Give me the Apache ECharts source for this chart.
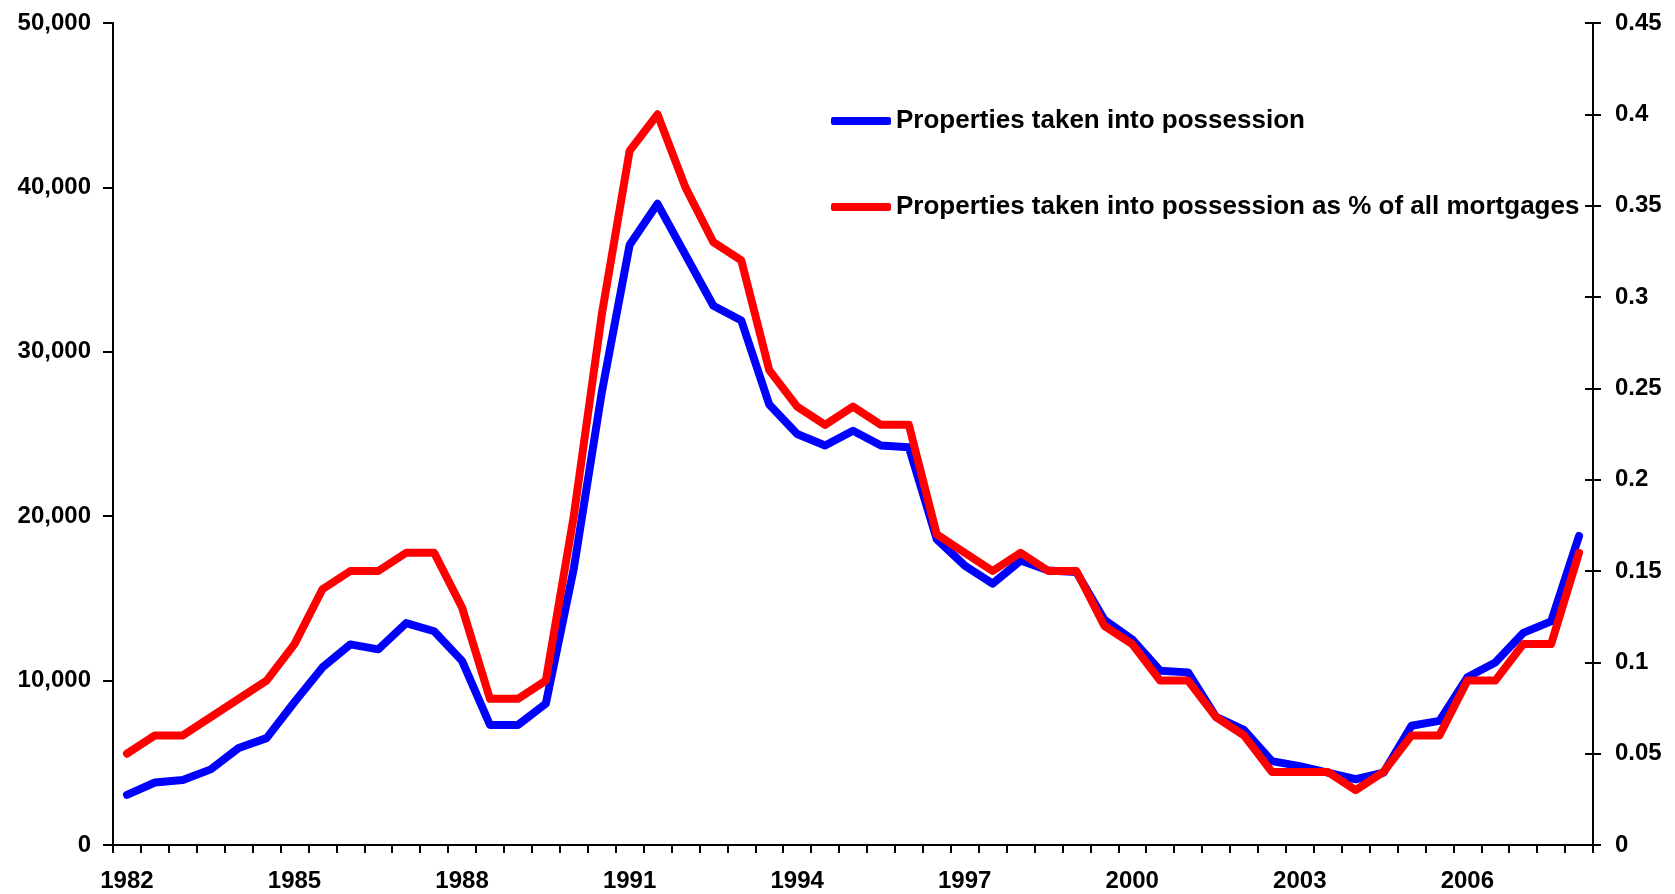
<!DOCTYPE html>
<html>
<head>
<meta charset="utf-8">
<title>Properties taken into possession</title>
<script src="https://cdn.jsdelivr.net/npm/echarts@6/dist/echarts.min.js"></script>
<style>
    html, body { margin: 0; padding: 0; background: #fff; }
    #chart { width: 1675px; height: 894px; }
</style>
</head>
<body>
<div id="chart"></div>
<script>
    // half-year periods, 1982 H1 .. 2008 H1
    const periods = [
        '1982 H1', '1982 H2', '1983 H1', '1983 H2', '1984 H1', '1984 H2',
        '1985 H1', '1985 H2', '1986 H1', '1986 H2', '1987 H1', '1987 H2',
        '1988 H1', '1988 H2', '1989 H1', '1989 H2', '1990 H1', '1990 H2',
        '1991 H1', '1991 H2', '1992 H1', '1992 H2', '1993 H1', '1993 H2',
        '1994 H1', '1994 H2', '1995 H1', '1995 H2', '1996 H1', '1996 H2',
        '1997 H1', '1997 H2', '1998 H1', '1998 H2', '1999 H1', '1999 H2',
        '2000 H1', '2000 H2', '2001 H1', '2001 H2', '2002 H1', '2002 H2',
        '2003 H1', '2003 H2', '2004 H1', '2004 H2', '2005 H1', '2005 H2',
        '2006 H1', '2006 H2', '2007 H1', '2007 H2', '2008 H1'
    ];

    // number of properties taken into possession (left axis)
    const possessions = [
        3050, 3800, 3950, 4600, 5900, 6500,
        8700, 10800, 12200, 11900, 13500, 13000,
        11200, 7300, 7300, 8600, 16800, 27500,
        36500, 39000, 35900, 32800, 31900, 26800,
        25000, 24300, 25200, 24300, 24200, 18600,
        17000, 15900, 17300, 16700, 16600, 13700,
        12500, 10600, 10500, 7800, 7000, 5100,
        4800, 4400, 4000, 4400, 7250, 7550,
        10200, 11100, 12900, 13600, 18800
    ];

    // as % of all mortgages (right axis)
    const possessionsPct = [
        0.05, 0.06, 0.06, 0.07, 0.08, 0.09,
        0.11, 0.14, 0.15, 0.15, 0.16, 0.16,
        0.13, 0.08, 0.08, 0.09, 0.18, 0.29,
        0.38, 0.40, 0.36, 0.33, 0.32, 0.26,
        0.24, 0.23, 0.24, 0.23, 0.23, 0.17,
        0.16, 0.15, 0.16, 0.15, 0.15, 0.12,
        0.11, 0.09, 0.09, 0.07, 0.06, 0.04,
        0.04, 0.04, 0.03, 0.04, 0.06, 0.06,
        0.09, 0.09, 0.11, 0.11, 0.16
    ];

    const seriesNames = [
        'Properties taken into possession',
        'Properties taken into possession as % of all mortgages'
    ];

    const font = "'Liberation Sans', Arial, sans-serif";
    const axisLine = { show: true, lineStyle: { color: '#000', width: 2 } };
    const labelStyle = { color: '#000', fontFamily: font, fontWeight: 'bold', fontSize: 24 };

    const chart = echarts.init(document.getElementById('chart'));
    chart.setOption({
        animation: false,
        backgroundColor: '#fff',
        grid: { left: 113, right: 82, top: 23, bottom: 49, outerBoundsMode: 'none' },
        legend: {
            orient: 'vertical',
            left: 826,
            top: 103,
            itemGap: 60,
            itemWidth: 60,
            itemHeight: 8,
            icon: 'roundRect',
            data: seriesNames,
            textStyle: { color: '#000', fontFamily: font, fontWeight: 'bold', fontSize: 26 }
        },
        xAxis: {
            type: 'category',
            data: periods,
            boundaryGap: true,
            axisLine: axisLine,
            axisTick: { show: true, interval: 0, length: 8, lineStyle: { color: '#000', width: 2 } },
            axisLabel: Object.assign({
                interval: 5,
                margin: 24,
                formatter: v => v.slice(0, 4)
            }, labelStyle),
            splitLine: { show: false }
        },
        yAxis: [
            {
                type: 'value',
                position: 'left',
                min: 0, max: 50000, interval: 10000,
                axisLine: axisLine,
                axisTick: { show: true, length: 10, lineStyle: { color: '#000', width: 2 } },
                axisLabel: Object.assign({
                    margin: 22,
                    formatter: v => v.toLocaleString('en-US')
                }, labelStyle),
                splitLine: { show: false }
            },
            {
                type: 'value',
                position: 'right',
                min: 0, max: 0.45, interval: 0.05,
                axisLine: axisLine,
                axisTick: { show: true, length: 8, lineStyle: { color: '#000', width: 2 } },
                axisLabel: Object.assign({
                    margin: 22,
                    formatter: v => String(+v.toFixed(2))
                }, labelStyle),
                splitLine: { show: false }
            },
            {
                // inner half of the right axis ticks
                type: 'value',
                position: 'right',
                min: 0, max: 0.45, interval: 0.05,
                axisLine: { show: false },
                axisTick: { show: true, inside: true, length: 8, lineStyle: { color: '#000', width: 2 } },
                axisLabel: { show: false },
                splitLine: { show: false }
            }
        ],
        series: [
            {
                name: seriesNames[0],
                type: 'line',
                yAxisIndex: 0,
                data: possessions,
                showSymbol: false,
                color: '#0000ff',
                lineStyle: { color: '#0000ff', width: 8, cap: 'round', join: 'round' }
            },
            {
                name: seriesNames[1],
                type: 'line',
                yAxisIndex: 1,
                data: possessionsPct,
                showSymbol: false,
                color: '#ff0000',
                lineStyle: { color: '#ff0000', width: 8, cap: 'round', join: 'round' }
            }
        ]
    });
</script>
</body>
</html>
